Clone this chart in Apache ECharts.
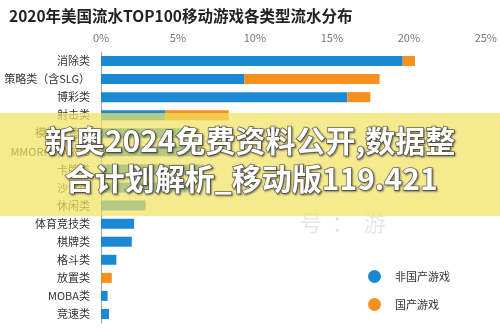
<!DOCTYPE html>
<html><head><meta charset="utf-8">
<script src="https://cdn.jsdelivr.net/npm/echarts@6/dist/echarts.min.js"></script>
<style>html,body{margin:0;padding:0;background:#fff}#c{width:500px;height:331px}</style>
</head><body><div id="c"></div>
<script>
const titleText = '2020年美国流水TOP100移动游戏各类型流水分布';
const categories = ['消除类','策略类（含SLG）','博彩类','射击类','模拟经营类','MMORPG/ARPG','卡牌类','沙盒类','休闲类','体育竞技类','棋牌类','格斗类','放置类','MOBA类','竞速类'];
const foreignGames = [19.6, 9.3, 16.0, 4.2, 6.1, 6.5, 6.7, 5.9, 2.9, 2.15, 2.0, 1.0, 0, 0.43, 0.52];
const domesticGames = [0.8, 8.8, 1.5, 4.1, 0.3, 0, 0, 0, 0, 0, 0, 0, 0.7, 0, 0];
const xTicks = [0, 5, 10, 15, 20, 25];
const seriesNames = ['非国产游戏', '国产游戏'];
const overlayLines = ['新奥2024免费资料公开,数据整', '合计划解析_移动版119.421'];

const chart = echarts.init(document.getElementById('c'), null, {renderer: 'canvas'});
const FONT = '"Noto Sans CJK SC","Noto Sans",sans-serif';
const overlayStyle = {fill: '#fff', font: 'bold 30px "Noto Sans CJK SC"', stroke: 'rgba(70,70,70,0.75)', lineWidth: 1.5, textShadowColor: 'rgba(40,40,40,0.6)', textShadowBlur: 2, textShadowOffsetX: 1, textShadowOffsetY: 1};
chart.setOption({
  animation: false,
  textStyle: {fontFamily: FONT},
  title: {text: titleText, left: 4, top: 3, textStyle: {fontSize: 15.5, fontWeight: 'bold', color: '#222', fontFamily: FONT}},
  grid: {left: 101, right: 12, top: 52, bottom: 8, containLabel: false},
  legend: {
    orient: 'vertical', left: 363, top: 265, itemWidth: 13, itemHeight: 13, itemGap: 15,
    icon: 'circle', data: seriesNames,
    textStyle: {fontSize: 11, color: '#333', padding: [0, 0, 0, 9]}
  },
  xAxis: {
    type: 'value', position: 'top', min: xTicks[0], max: xTicks[xTicks.length - 1], interval: 5,
    axisLine: {show: false}, axisTick: {show: false}, splitLine: {show: false},
    axisLabel: {formatter: '{value}%', color: '#777', fontSize: 11, margin: 9}
  },
  yAxis: {
    type: 'category', data: categories, inverse: true,
    axisLine: {show: true, lineStyle: {color: '#9aa4ad', width: 1}},
    axisTick: {show: false},
    axisLabel: {color: '#333', fontSize: 11, margin: 11}
  },
  series: [
    {name: seriesNames[0], type: 'bar', stack: 'a', data: foreignGames, barWidth: 10, itemStyle: {color: '#1b88d3'}},
    {name: seriesNames[1], type: 'bar', stack: 'a', data: domesticGames, barWidth: 10, itemStyle: {color: '#f7901e'}}
  ],
  graphic: [
    {type: 'text', left: 300, top: 212, z: 50, style: {text: '号  ：  游', fill: 'rgba(180,180,180,0.35)', font: '22px "Noto Sans CJK SC"'}},
    {type: 'rect', left: 0, top: 113, z: 100, shape: {width: 500, height: 103}, style: {fill: 'rgba(242,226,100,0.72)'}},
    {type: 'text', left: 'center', top: 125, z: 101, style: Object.assign({text: overlayLines[0]}, overlayStyle)},
    {type: 'text', left: 64, top: 163, z: 101, style: Object.assign({text: overlayLines[1]}, overlayStyle)}
  ]
});
</script></body></html>
